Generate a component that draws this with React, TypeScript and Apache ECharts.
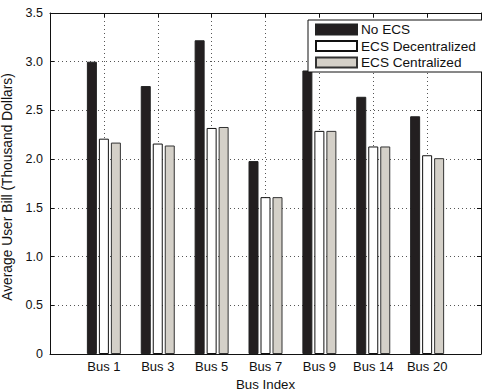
import React, { useEffect, useRef } from "react";
import * as echarts from "echarts";

const categories = ["Bus 1", "Bus 3", "Bus 5", "Bus 7", "Bus 9", "Bus 14", "Bus 20"];
const seriesNames = ["No ECS", "ECS Decentralized", "ECS Centralized"];
const noEcs = [3.0, 2.75, 3.22, 1.98, 2.91, 2.64, 2.44];
const ecsDecentralized = [2.21, 2.16, 2.32, 1.61, 2.29, 2.13, 2.04];
const ecsCentralized = [2.17, 2.14, 2.33, 1.61, 2.29, 2.13, 2.01];
const yTicks = [0, 0.5, 1.0, 1.5, 2.0, 2.5, 3.0, 3.5];
const yTickLabels = ["0", "0.5", "1.0", "1.5", "2.0", "2.5", "3.0", "3.5"];

const FONT = "'Liberation Sans', Arial, Helvetica, sans-serif";

export default function App() {
  const ref = useRef<HTMLDivElement>(null);
  useEffect(() => {
    if (!ref.current) return;
    const chart = echarts.init(ref.current, undefined, { renderer: "svg" });
    const values = [noEcs, ecsDecentralized, ecsCentralized];
    const fills = ["#231f20", "#ffffff", "#d4d0c8"];
    const borders = ["#222", "#111", "#333"];
    const axisCommon = {
      type: "value" as const,
      axisLine: { show: true, onZero: false, lineStyle: { color: "#111", width: 1 } },
      axisTick: { show: true, inside: true, length: 4, lineStyle: { color: "#111" } },
    };
    chart.setOption({
      animation: false,
      backgroundColor: "#ffffff",
      textStyle: { fontFamily: FONT },
      grid: {
        left: 50,
        top: 13,
        width: 431,
        height: 341,
        containLabel: false,
        outerBoundsMode: "none",
      },
      legend: {
        data: seriesNames,
        orient: "vertical",
        left: 308,
        top: 20,
        padding: [2, 7, 2, 7],
        itemWidth: 41,
        itemHeight: 10,
        itemGap: 1.5,
        icon: "rect",
        backgroundColor: "#ffffff",
        borderColor: "#111",
        borderWidth: 1,
        borderRadius: 0,
        textStyle: { fontSize: 13.6, lineHeight: 15, color: "#111", fontFamily: FONT, padding: [0, 0, 0, -1] },
      },
      xAxis: [
        {
          ...axisCommon,
          position: "bottom",
          min: 0,
          max: 8,
          interval: 1,
          name: "Bus Index",
          nameLocation: "middle",
          nameGap: 20,
          nameTextStyle: { fontSize: 13.3, color: "#111", fontFamily: FONT },
          axisLabel: {
            fontSize: 13,
            color: "#111",
            margin: 6,
            fontFamily: FONT,
            formatter: (v: number) => categories[v - 1] ?? "",
          },
          splitLine: { show: true, lineStyle: { color: "#555", type: [1, 3], width: 1 } },
        },
        {
          ...axisCommon,
          position: "top",
          min: 0,
          max: 8,
          interval: 1,
          axisLabel: { show: false },
          splitLine: { show: false },
        },
      ],
      yAxis: [
        {
          ...axisCommon,
          position: "left",
          min: 0,
          max: 3.5,
          interval: 0.5,
          name: "Average User Bill (Thousand Dollars)",
          nameLocation: "middle",
          nameGap: 28,
          nameTextStyle: { fontSize: 13.8, color: "#111", fontFamily: FONT, padding: [0, 7, 0, 0] },
          axisLabel: {
            fontSize: 12.5,
            color: "#111",
            margin: 7,
            fontFamily: FONT,
            formatter: (v: number) => {
              const i = yTicks.findIndex((t) => Math.abs(t - v) < 1e-9);
              return i >= 0 ? yTickLabels[i] : "";
            },
          },
          splitLine: { show: true, lineStyle: { color: "#555", type: [1, 3], width: 1 } },
        },
        {
          ...axisCommon,
          position: "right",
          min: 0,
          max: 3.5,
          interval: 0.5,
          axisLabel: { show: false },
          splitLine: { show: false },
        },
      ],
      series: seriesNames.map((name, s) => ({
        name,
        type: "bar",
        xAxisIndex: 0,
        yAxisIndex: 0,
        barWidth: 10,
        barGap: "20%",
        data: values[s].map((v, i) => [i + 1, v]),
        itemStyle: { color: fills[s], borderColor: borders[s], borderWidth: 1 },
      })),
    });
    return () => chart.dispose();
  }, []);
  return (
    <div
      ref={ref}
      style={{ position: "fixed", left: 0, top: 0, width: 482, height: 391, background: "#fff" }}
    />
  );
}
